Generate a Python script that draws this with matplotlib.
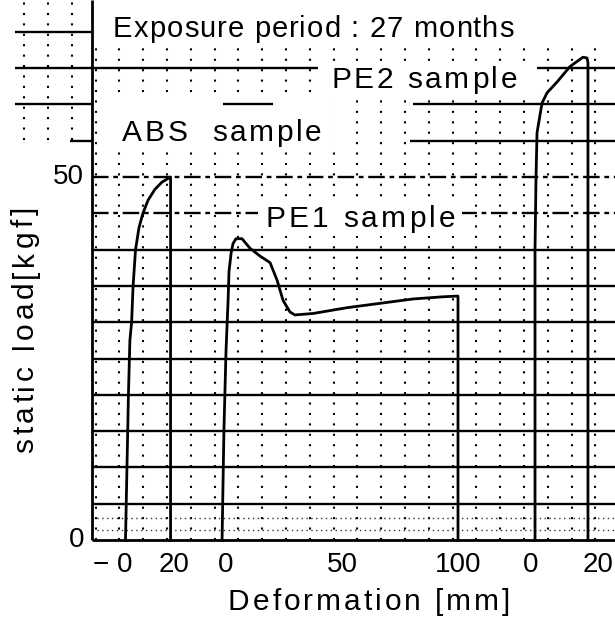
import numpy as np
import matplotlib
matplotlib.use("Agg")
import matplotlib.pyplot as plt
from matplotlib.font_manager import FontProperties, findfont
from matplotlib.ft2font import FT2Font
from matplotlib.patches import Rectangle

plt.rcParams['font.family'] = ['Liberation Sans', 'DejaVu Sans']

# recorder traces: deformation [mm] against static load [kgf]
abs_mm = [0.2, 0.8, 1.4, 2.0, 2.7, 3.3, 4.3, 5.7, 7.3, 9.4, 12.2, 15.1, 18.6, 18.6]
abs_kgf = [0, 10, 20, 27.5, 30, 35, 40, 43, 45, 46.8, 48.3, 49.3, 50, 0]

pe1_mm = [-1.7, -0.9, 0.0, 0.9, 1.3, 2.2, 3.0, 4.3, 6.9, 10.3, 14.7, 19.0, 22.0,
          24.6, 27.6, 29.7, 37.5, 52.2, 66.4, 80.6, 93.5, 100.0, 100.0]
pe1_kgf = [0, 15, 26, 33, 37, 39.5, 40.8, 41.5, 41.5, 40.2, 39.1, 38.2, 35.8,
           33, 31.4, 31, 31.2, 32, 32.6, 33.2, 33.5, 33.6, 0]

pe2_mm = [1.2, 1.2, 1.5, 1.8, 3.3, 4.8, 7.8, 11.6, 15.5, 16.7, 17.0, 17.0]
pe2_kgf = [0, 40, 50, 56.1, 60.2, 61.6, 63.1, 65.2, 66.5, 66.4, 65.8, 0]

abs_ticks = [0, 20]
abs_tick_labels = ['\u2212 0', '20']
pe1_ticks = [0, 50, 100]
pe1_tick_labels = ['0', '50', '100']
pe2_ticks = [0, 20]
pe2_tick_labels = ['0', '20']
load_ticks = [0, 50]
load_tick_labels = ['0', '50']

# where each trace sits on the paper: (zero position px, px per mm)
ABS_POS = (125, 2.45)
PE1_POS = (226, 2.32)
PE2_POS = (531, 3.35)

W, H = 615, 619
Y0 = 540            # pixel row of zero load
PX_PER_KGF = 7.26


def ky(py):
    return (Y0 - py) / PX_PER_KGF


def place(mm, pos):
    return pos[0] + np.asarray(mm, float) * pos[1]


fig = plt.figure(figsize=(W / 100, H / 100), dpi=100)
ax = fig.add_axes([0, 0, 1, 1])
ax.set_xlim(0, W)
ax.set_ylim(ky(H), ky(0))
ax.axis('off')

_font = FT2Font(findfont(FontProperties(family='Liberation Sans')))


def tracked(x, y, s, size, track, rot=0):
    # letter-spaced text, one glyph at a time
    _font.set_size(size, 100)
    a = np.deg2rad(rot)
    off = 0.0
    for ch in s:
        ax.annotate(ch, (x, y), xytext=(off * np.cos(a), off * np.sin(a)),
                    textcoords='offset pixels', fontsize=size, rotation=rot,
                    rotation_mode='anchor', ha='left', va='baseline', zorder=5)
        off += _font.load_char(ord(ch)).linearHoriAdvance / 65536 + track
    return off


# chart paper
dotted = (0, (1, 4))
xs = 95.5 + 23.8 * np.arange(22)
ax.vlines(xs, 0, 68, colors='k', lw=1.5, linestyles=dotted, zorder=1)
ax.vlines(95.5 - 23.8 * np.arange(1, 4), ky(140), ky(0), colors='k', lw=1.5,
          linestyles=dotted, zorder=1)
ax.hlines([1.4, 3.0], 92, W, colors='0.2', lw=1.0, linestyles=(0, (1, 2.5)), zorder=1)

GRID_LW = 1.7
ax.hlines(np.arange(5, 45, 5), 92, W, colors='k', lw=GRID_LW, zorder=2)
ax.hlines([45, 50], 92, W, colors='k', lw=GRID_LW, linestyles=(0, (7, 2, 2, 2)), zorder=2)
for lvl, x0, x1 in [(70, 15, 92), (65, 15, 318), (65, 537, W), (60, 15, 92),
                    (60, 413, W), (55, 70, 92), (55, 410, W)]:
    ax.hlines(lvl, x0, x1, colors='k', lw=GRID_LW, zorder=2)

# pasted-on labels cover the paper
for x0, x1, y0, y1 in [(322, 534, 62, 98), (100, 335, 97, 152), (258, 462, 200, 236)]:
    ax.add_patch(Rectangle((x0, ky(y1)), x1 - x0, ky(y0) - ky(y1),
                           fc='white', ec='none', zorder=3))
ax.hlines(60, 223, 273, colors='k', lw=GRID_LW, zorder=4)

# axes
ax.vlines(92, 0, ky(0), colors='k', lw=2.0, zorder=4)
ax.hlines(0, 92, W, colors='k', lw=2.0, zorder=4)

for mm, kgf, pos in [(abs_mm, abs_kgf, ABS_POS), (pe1_mm, pe1_kgf, PE1_POS),
                     (pe2_mm, pe2_kgf, PE2_POS)]:
    ax.plot(place(mm, pos), kgf, color='k', lw=2.0, solid_joinstyle='round', zorder=6)

for ticks, labels, pos in [(abs_ticks, abs_tick_labels, ABS_POS),
                           (pe1_ticks, pe1_tick_labels, PE1_POS),
                           (pe2_ticks, pe2_tick_labels, PE2_POS)]:
    for t, lab in zip(ticks, labels):
        x = place(t, pos)
        if lab.startswith('\u2212'):
            ax.text(x + 7.8, ky(572), lab, ha='right', va='baseline', fontsize=20)
        else:
            ax.text(x, ky(572), lab, ha='center', va='baseline', fontsize=20)

for t, lab in zip(load_ticks, load_tick_labels):
    ax.text(84, t, lab, ha='right', va='center', fontsize=20)

tracked(113, ky(37), 'Exposure period : 27 months', 21, 1.1)
tracked(331, ky(88), 'PE2 sample', 21.5, 2.8)
tracked(122, ky(141), 'ABS  sample', 21.5, 2.7)
tracked(265, ky(227), 'PE1 sample', 21.5, 3.3)
tracked(228, ky(610), 'Deformation [mm]', 21.5, 3.0)
tracked(33, ky(453), 'static load[kgf]', 21.5, 3.7, rot=90)

fig.savefig('out.png', dpi=100, facecolor='white')
